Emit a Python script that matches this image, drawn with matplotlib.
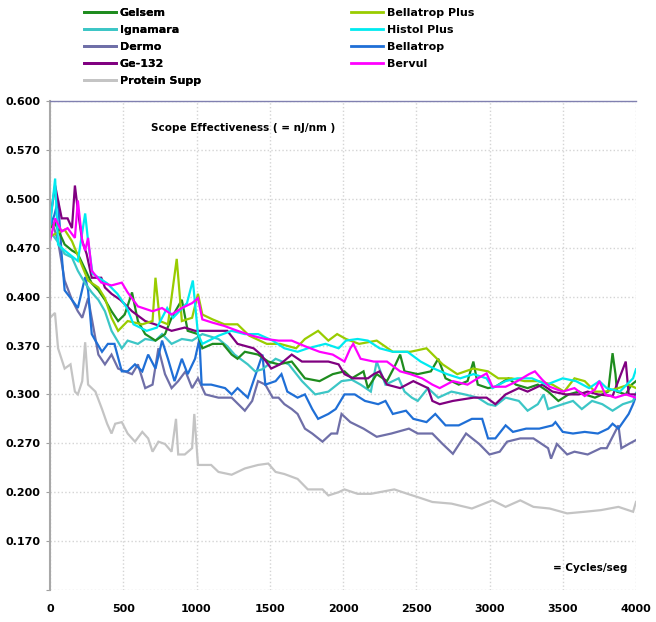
import numpy as np
from matplotlib import pyplot as plt
from matplotlib.lines import Line2D

# y axis of the original uses uneven label values on evenly spaced gridlines
tick_vals = [0.100, 0.170, 0.200, 0.270, 0.300, 0.370, 0.400, 0.470, 0.500, 0.570, 0.600]
x_ticks = [0, 500, 1000, 1500, 2000, 2500, 3000, 3500, 4000]

names = ['Gelsem', 'Ignamara', 'Dermo', 'Ge-132', 'Protein Supp',
         'Bellatrop Plus', 'Histol Plus', 'Bellatrop', 'Bervul']
colors = ['#1e8c1e', '#3cc6c6', '#6f6fa8', '#800080', '#c4c4c4',
          '#99cc00', '#00eaf0', '#1f6fd6', '#ff00ff']

gelsem_x = [0, 35, 100, 150, 190, 285, 330, 375, 420, 465, 510, 560, 600, 650, 720, 785, 830, 900, 940,
            1010, 1040, 1110, 1180, 1240, 1280, 1330, 1420, 1490, 1560, 1650, 1740, 1840, 1930, 2010, 2060,
            2140, 2170, 2230, 2300, 2350, 2390, 2420, 2510, 2600, 2650, 2700, 2790, 2850, 2890, 2920, 2990,
            3040, 3130, 3180, 3260, 3330, 3400, 3470, 3540, 3610, 3650, 3720, 3770, 3810, 3840, 3860, 3870,
            3930, 3970, 4000]
gelsem_y = [0.482, 0.485, 0.472, 0.466, 0.461, 0.419, 0.409, 0.398, 0.391, 0.385, 0.389, 0.406, 0.385, 0.377,
            0.373, 0.377, 0.387, 0.398, 0.379, 0.377, 0.366, 0.371, 0.371, 0.357, 0.351, 0.361, 0.357, 0.347,
            0.343, 0.347, 0.323, 0.319, 0.329, 0.333, 0.323, 0.333, 0.309, 0.329, 0.319, 0.339, 0.357, 0.333,
            0.329, 0.333, 0.351, 0.323, 0.314, 0.319, 0.347, 0.314, 0.309, 0.311, 0.323, 0.314, 0.309, 0.314,
            0.304, 0.296, 0.300, 0.304, 0.300, 0.298, 0.300, 0.304, 0.359, 0.329, 0.304, 0.300, 0.314, 0.319]

ignamara_x = [0, 50, 100, 150, 190, 240, 285, 330, 375, 420, 490, 530, 600, 650, 720, 765, 830, 900, 970,
              1040, 1150, 1210, 1260, 1350, 1400, 1450, 1540, 1630, 1720, 1810, 1900, 1990, 2060, 2120, 2190,
              2230, 2290, 2380, 2420, 2470, 2510, 2580, 2650, 2740, 2830, 2920, 2990, 3040, 3110, 3200, 3260,
              3330, 3370, 3400, 3500, 3570, 3630, 3700, 3770, 3840, 3910, 3980, 4000]
ignamara_y = [0.480, 0.474, 0.461, 0.456, 0.437, 0.419, 0.406, 0.398, 0.391, 0.379, 0.366, 0.373, 0.371,
              0.374, 0.373, 0.377, 0.371, 0.374, 0.373, 0.377, 0.374, 0.369, 0.357, 0.343, 0.333, 0.336,
              0.351, 0.343, 0.319, 0.300, 0.304, 0.319, 0.321, 0.314, 0.304, 0.347, 0.314, 0.323, 0.304,
              0.298, 0.296, 0.309, 0.298, 0.304, 0.300, 0.298, 0.294, 0.293, 0.298, 0.296, 0.290, 0.294,
              0.300, 0.291, 0.294, 0.296, 0.291, 0.296, 0.294, 0.290, 0.294, 0.296, 0.302]

dermo_x = [0, 55, 100, 150, 190, 220, 260, 330, 375, 420, 465, 510, 560, 600, 650, 700, 740, 785, 830, 875,
           925, 970, 1010, 1060, 1150, 1240, 1330, 1380, 1420, 1470, 1520, 1560, 1600, 1650, 1690, 1740,
           1790, 1860, 1920, 1960, 1990, 2050, 2140, 2230, 2330, 2450, 2510, 2610, 2680, 2750, 2840, 2930,
           3000, 3070, 3120, 3210, 3300, 3400, 3420, 3460, 3530, 3580, 3670, 3760, 3800, 3880, 3900, 3950, 4000]
dermo_y = [0.490, 0.474, 0.423, 0.398, 0.391, 0.387, 0.399, 0.357, 0.343, 0.357, 0.337, 0.333, 0.329, 0.343,
           0.309, 0.314, 0.366, 0.329, 0.309, 0.319, 0.333, 0.309, 0.323, 0.300, 0.298, 0.298, 0.290, 0.296,
           0.319, 0.314, 0.298, 0.298, 0.294, 0.291, 0.288, 0.279, 0.276, 0.271, 0.276, 0.276, 0.288, 0.283,
           0.279, 0.274, 0.276, 0.279, 0.276, 0.276, 0.269, 0.255, 0.276, 0.269, 0.254, 0.258, 0.271, 0.273,
           0.273, 0.263, 0.248, 0.269, 0.254, 0.258, 0.254, 0.263, 0.263, 0.281, 0.263, 0.269, 0.272]

ge132_x = [0, 35, 55, 80, 120, 150, 170, 190, 220, 250, 285, 350, 375, 420, 480, 560, 650, 750, 830, 920,
           990, 1110, 1210, 1280, 1390, 1440, 1510, 1570, 1650, 1720, 1810, 1900, 1970, 2010, 2070, 2170,
           2210, 2250, 2300, 2390, 2480, 2580, 2610, 2660, 2750, 2890, 2980, 3040, 3110, 3200, 3260, 3360,
           3430, 3520, 3610, 3670, 3740, 3840, 3930, 3950, 4000]
ge132_y = [0.487, 0.519, 0.499, 0.488, 0.488, 0.482, 0.519, 0.493, 0.474, 0.461, 0.427, 0.427, 0.413, 0.404,
           0.398, 0.391, 0.385, 0.382, 0.379, 0.381, 0.379, 0.379, 0.379, 0.371, 0.366, 0.357, 0.337, 0.343,
           0.357, 0.347, 0.347, 0.347, 0.343, 0.329, 0.323, 0.323, 0.329, 0.333, 0.314, 0.309, 0.319, 0.309,
           0.296, 0.294, 0.296, 0.298, 0.298, 0.294, 0.300, 0.309, 0.304, 0.314, 0.304, 0.300, 0.300, 0.304,
           0.300, 0.299, 0.347, 0.300, 0.300]

protein_x = [0, 34, 55, 100, 140, 170, 190, 220, 240, 260, 310, 355, 390, 420, 445, 490, 530, 580, 630, 670,
             700, 740, 785, 830, 860, 875, 920, 970, 985, 1010, 1100, 1150, 1240, 1330, 1420, 1490, 1540,
             1600, 1690, 1760, 1860, 1900, 1970, 2010, 2100, 2190, 2350, 2440, 2510, 2610, 2740, 2880, 3020,
             3110, 3210, 3300, 3410, 3530, 3650, 3760, 3880, 3980, 4000]
protein_y = [0.387, 0.390, 0.366, 0.337, 0.343, 0.304, 0.300, 0.319, 0.372, 0.314, 0.304, 0.291, 0.282,
             0.276, 0.282, 0.283, 0.276, 0.271, 0.277, 0.273, 0.258, 0.271, 0.269, 0.258, 0.285, 0.254,
             0.254, 0.263, 0.288, 0.239, 0.239, 0.229, 0.225, 0.234, 0.239, 0.241, 0.229, 0.226, 0.219,
             0.204, 0.204, 0.198, 0.200, 0.204, 0.199, 0.199, 0.204, 0.199, 0.197, 0.194, 0.193, 0.190,
             0.195, 0.191, 0.195, 0.191, 0.190, 0.187, 0.188, 0.189, 0.191, 0.188, 0.194]

bplus_x = [0, 100, 150, 260, 330, 375, 420, 465, 530, 630, 700, 720, 750, 805, 865, 900, 970, 1010, 1040,
           1110, 1190, 1280, 1360, 1480, 1570, 1680, 1740, 1830, 1900, 1960, 2020, 2110, 2230, 2340, 2460,
           2570, 2680, 2780, 2890, 2990, 3060, 3150, 3240, 3330, 3430, 3510, 3580, 3650, 3720, 3790, 3880,
           3950, 4000]
bplus_y = [0.477, 0.481, 0.474, 0.423, 0.413, 0.399, 0.387, 0.379, 0.385, 0.383, 0.385, 0.427, 0.385, 0.383,
           0.454, 0.385, 0.387, 0.404, 0.389, 0.386, 0.383, 0.383, 0.376, 0.371, 0.371, 0.366, 0.374, 0.379,
           0.373, 0.377, 0.374, 0.371, 0.373, 0.361, 0.361, 0.366, 0.343, 0.329, 0.337, 0.333, 0.323, 0.323,
           0.319, 0.319, 0.314, 0.304, 0.323, 0.319, 0.304, 0.304, 0.309, 0.314, 0.309]

histol_x = [0, 35, 55, 100, 190, 240, 260, 290, 390, 460, 525, 570, 660, 730, 800, 840, 935, 975, 1010, 1040,
            1150, 1240, 1330, 1420, 1520, 1600, 1690, 1760, 1880, 1970, 2020, 2100, 2170, 2250, 2340, 2440,
            2530, 2620, 2710, 2800, 2890, 2980, 3020, 3110, 3190, 3290, 3390, 3500, 3590, 3680, 3750, 3800,
            3890, 3980, 4000]
histol_y = [0.483, 0.529, 0.472, 0.466, 0.451, 0.491, 0.474, 0.433, 0.419, 0.404, 0.393, 0.383, 0.379, 0.381,
            0.393, 0.387, 0.396, 0.423, 0.377, 0.371, 0.376, 0.379, 0.377, 0.377, 0.373, 0.366, 0.361, 0.366,
            0.371, 0.366, 0.373, 0.374, 0.373, 0.366, 0.361, 0.361, 0.347, 0.337, 0.329, 0.323, 0.329, 0.323,
            0.309, 0.319, 0.323, 0.323, 0.314, 0.323, 0.319, 0.309, 0.319, 0.309, 0.304, 0.323, 0.336]

bellatrop_x = [0, 30, 55, 80, 100, 150, 190, 240, 260, 285, 310, 355, 395, 440, 490, 530, 580, 630, 670, 720,
               765, 805, 850, 900, 940, 990, 1020, 1035, 1100, 1195, 1240, 1280, 1350, 1450, 1470, 1540, 1580,
               1620, 1690, 1740, 1790, 1830, 1900, 1950, 2010, 2080, 2150, 2240, 2290, 2340, 2430, 2480, 2570,
               2630, 2700, 2790, 2880, 2950, 2990, 3040, 3110, 3160, 3250, 3340, 3430, 3450, 3500, 3570,
               3650, 3740, 3810, 3840, 3880, 3950, 3980, 4000]
bellatrop_y = [0.483, 0.490, 0.499, 0.459, 0.409, 0.398, 0.393, 0.428, 0.409, 0.377, 0.373, 0.361, 0.371,
               0.371, 0.333, 0.333, 0.343, 0.333, 0.357, 0.337, 0.373, 0.351, 0.319, 0.351, 0.329, 0.351,
               0.374, 0.314, 0.314, 0.309, 0.300, 0.309, 0.298, 0.357, 0.314, 0.319, 0.329, 0.304, 0.298,
               0.300, 0.291, 0.285, 0.288, 0.291, 0.300, 0.300, 0.296, 0.294, 0.296, 0.288, 0.290, 0.285,
               0.283, 0.288, 0.281, 0.281, 0.285, 0.285, 0.273, 0.273, 0.281, 0.277, 0.279, 0.279, 0.281,
               0.283, 0.277, 0.276, 0.277, 0.276, 0.279, 0.282, 0.279, 0.288, 0.294, 0.299]

bervul_x = [0, 35, 80, 120, 170, 190, 220, 240, 260, 285, 350, 420, 490, 530, 600, 700, 765, 830, 900, 970,
            1010, 1040, 1110, 1190, 1280, 1380, 1470, 1560, 1650, 1740, 1840, 1930, 2010, 2050, 2070, 2120,
            2210, 2300, 2390, 2460, 2540, 2610, 2660, 2750, 2850, 2920, 2980, 3020, 3110, 3190, 3270, 3310,
            3360, 3410, 3500, 3580, 3650, 3720, 3750, 3790, 3860, 3930, 4000]
bervul_y = [0.474, 0.488, 0.480, 0.482, 0.476, 0.499, 0.474, 0.466, 0.476, 0.437, 0.420, 0.416, 0.420, 0.406,
            0.394, 0.391, 0.393, 0.389, 0.393, 0.396, 0.399, 0.386, 0.384, 0.382, 0.379, 0.376, 0.374, 0.373,
            0.373, 0.369, 0.361, 0.357, 0.347, 0.366, 0.371, 0.351, 0.347, 0.347, 0.333, 0.329, 0.323, 0.314,
            0.309, 0.319, 0.314, 0.323, 0.330, 0.311, 0.311, 0.319, 0.329, 0.333, 0.321, 0.311, 0.304, 0.309,
            0.299, 0.307, 0.319, 0.300, 0.298, 0.300, 0.298]

series = [(gelsem_x, gelsem_y), (ignamara_x, ignamara_y), (dermo_x, dermo_y), (ge132_x, ge132_y),
          (protein_x, protein_y), (bplus_x, bplus_y), (histol_x, histol_y),
          (bellatrop_x, bellatrop_y), (bervul_x, bervul_y)]

pos = np.arange(len(tick_vals))


def fwd(v):
    return np.interp(v, tick_vals, pos)


def inv(p):
    return np.interp(p, pos, tick_vals)


fig = plt.figure(figsize=(6.56, 6.22), dpi=100)
ax = fig.add_axes([50 / 656, (622 - 590) / 622, 586 / 656, 489 / 622])
ax.set_yscale('function', functions=(fwd, inv))

# draw order: protein supp at the back, bervul on top
order = [4, 2, 7, 1, 0, 3, 5, 6, 8]
for i in order:
    xs, ys = series[i]
    ax.plot(xs, ys, color=colors[i], lw=1.6, solid_joinstyle='miter')

ax.set_xlim(0, 4000)
ax.set_ylim(0.100, 0.600)
ax.set_xticks(x_ticks)
ax.set_yticks(tick_vals)
ax.set_yticklabels([''] + ['%.3f' % v for v in tick_vals[1:]])
ax.tick_params(axis='x', length=0, pad=10)
ax.tick_params(axis='y', length=3, color='#a0a0a0', pad=4)
for lab in ax.get_xticklabels() + ax.get_yticklabels():
    lab.set_fontweight('bold')
    lab.set_fontsize(8)

ax.grid(True, color='#d4d4d4', linestyle=':', linewidth=1.0)
ax.set_axisbelow(True)
ax.spines['left'].set_color('#a8a8a8')
ax.spines['left'].set_linewidth(1.5)
ax.spines['top'].set_color('#8080b0')
ax.spines['top'].set_linewidth(1.0)
ax.spines['right'].set_visible(False)
ax.spines['bottom'].set_visible(False)

ax.text(0.33, 0.945, 'Scope Effectiveness ( = nJ/nm )', transform=ax.transAxes,
        ha='center', va='center', fontsize=7.5, fontweight='bold')
ax.text(0.985, 0.045, '= Cycles/seg', transform=ax.transAxes,
        ha='right', va='center', fontsize=7.5, fontweight='bold')

handles = [Line2D([], [], color=c, lw=2) for c in colors]
leg1 = fig.legend(handles[:5], names[:5], loc='upper left', bbox_to_anchor=(84 / 656, 1 - 8 / 622),
                  frameon=False, handlelength=2.9, handletextpad=0.3, labelspacing=0.62,
                  borderaxespad=0, borderpad=0, prop={'weight': 'bold', 'size': 8})
leg2 = fig.legend(handles[5:], names[5:], loc='upper left', bbox_to_anchor=(351 / 656, 1 - 8 / 622),
                  frameon=False, handlelength=2.9, handletextpad=0.3, labelspacing=0.62,
                  borderaxespad=0, borderpad=0, prop={'weight': 'bold', 'size': 8})
fig.add_artist(leg1)

fig.savefig('out.png', dpi=100)
